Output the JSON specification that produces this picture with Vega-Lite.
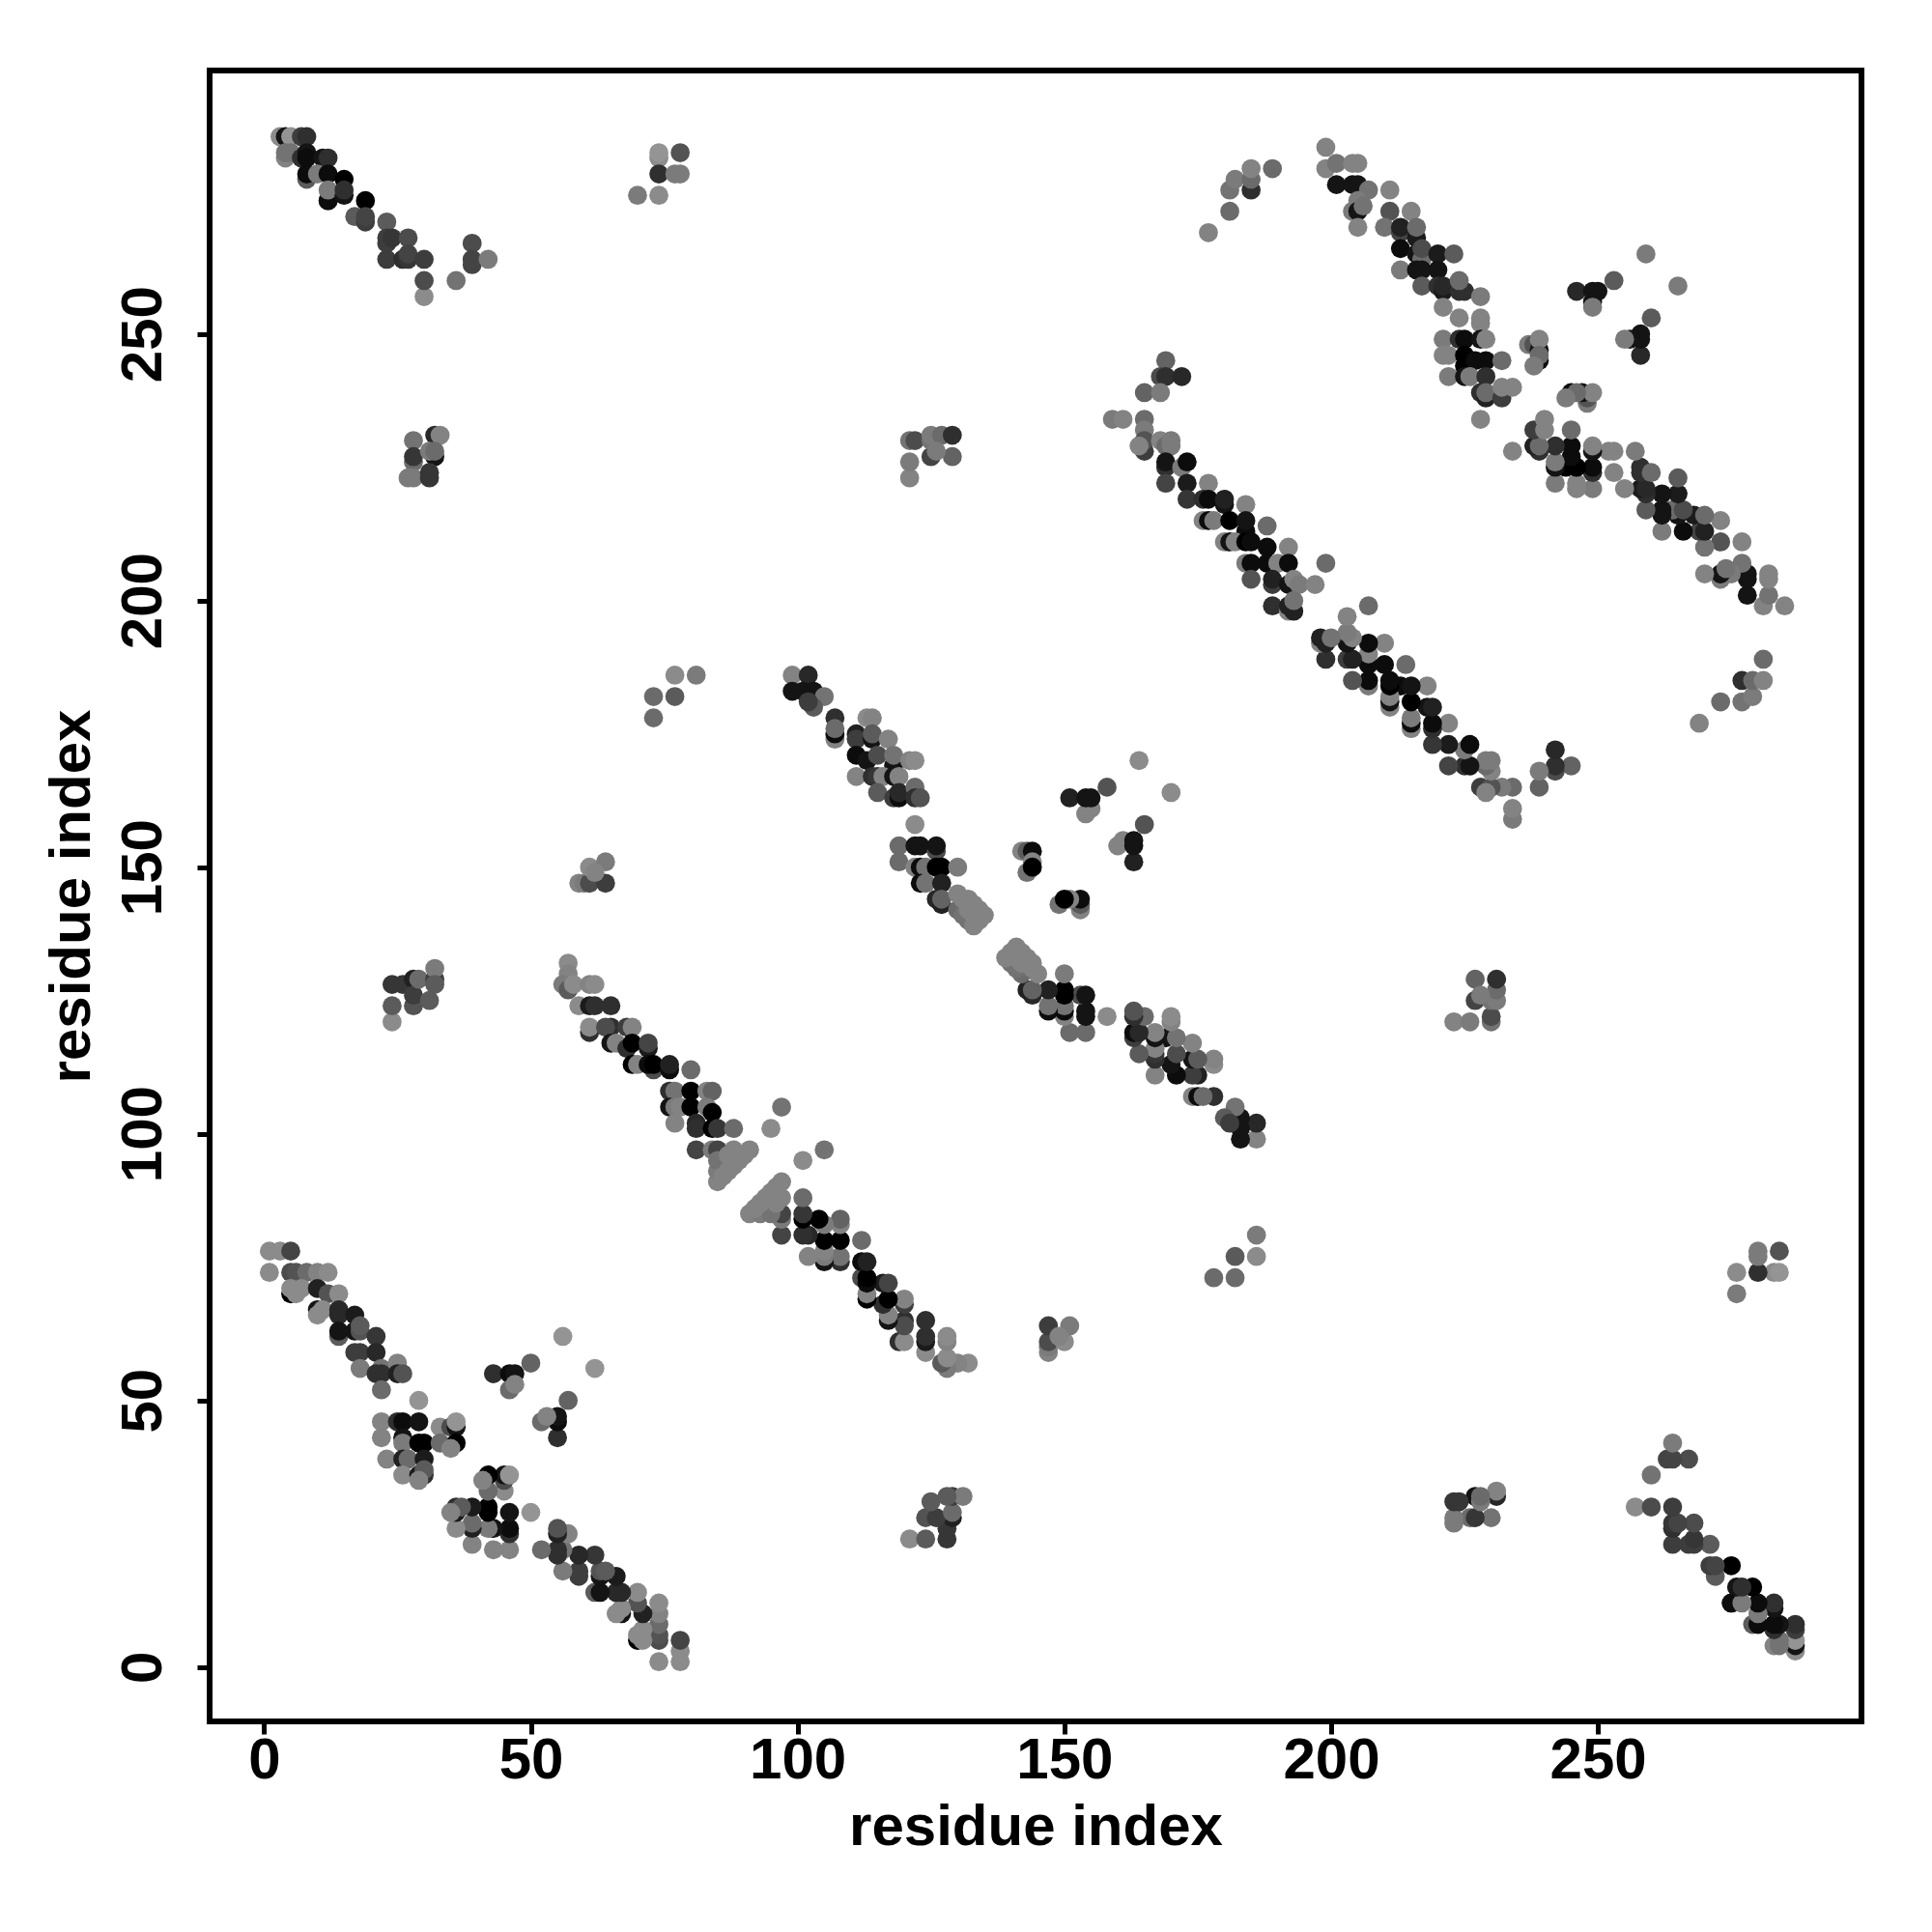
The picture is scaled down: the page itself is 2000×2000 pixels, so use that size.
{"$schema":"https://vega.github.io/schema/vega-lite/v6.json","autosize":"none","width":1710,"height":1709,"padding":{"left":217,"top":73,"right":73,"bottom":218},"background":"white","view":{"stroke":"black","strokeWidth":6},
"data":{"values":[
{"x":1,"y":78,"s":0.9},{"x":3,"y":78,"s":0.9},{"x":5,"y":78,"s":0.45},{"x":1,"y":74,"s":0.9},{"x":5,"y":74,"s":0.5},{"x":6,"y":74,"s":0.55},{"x":8,"y":74,"s":0.7},{"x":10,"y":74,"s":0.85},{"x":12,"y":74,"s":0.9},{"x":5,"y":70,"s":0},{"x":5,"y":71,"s":0.9},{"x":6,"y":70,"s":0.9},{"x":7,"y":71,"s":0.9},{"x":10,"y":71,"s":0.2},{"x":12,"y":70,"s":0.55},{"x":14,"y":70,"s":0.9},{"x":10,"y":67,"s":0.1},{"x":10,"y":66,"s":0.9},{"x":11,"y":67,"s":0.9},{"x":14,"y":67,"s":0.25},{"x":14,"y":66,"s":0.25},{"x":17,"y":66,"s":0.15},{"x":14,"y":62,"s":0.6},{"x":14,"y":63,"s":0.1},{"x":17,"y":63,"s":0.1},{"x":18,"y":63,"s":0.55},{"x":18,"y":64,"s":0.6},{"x":21,"y":62,"s":0.35},{"x":17,"y":59,"s":0.4},{"x":18,"y":59,"s":0.4},{"x":21,"y":59,"s":0.25},{"x":18,"y":56,"s":0.8},{"x":22,"y":56,"s":0.75},{"x":22,"y":55,"s":0.3},{"x":21,"y":55,"s":0.3},{"x":25,"y":57,"s":0.85},{"x":25,"y":55,"s":0.2},{"x":26,"y":55,"s":0.55},{"x":22,"y":52,"s":0.7},{"x":29,"y":50,"s":0.95},{"x":22,"y":46,"s":0.85},{"x":25,"y":46,"s":0.3},{"x":26,"y":46,"s":0.05},{"x":29,"y":46,"s":0.1},{"x":33,"y":45,"s":0.9},{"x":35,"y":45,"s":0.5},{"x":36,"y":45,"s":0.1},{"x":36,"y":46,"s":0.95},{"x":22,"y":43,"s":0.85},{"x":26,"y":43,"s":0.1},{"x":26,"y":42,"s":0.8},{"x":29,"y":42,"s":0},{"x":30,"y":42,"s":0},{"x":33,"y":42,"s":0.7},{"x":36,"y":42,"s":0},{"x":35,"y":41,"s":0.85},{"x":23,"y":39,"s":0.85},{"x":26,"y":39,"s":0.2},{"x":27,"y":39,"s":0.7},{"x":30,"y":39,"s":0.15},{"x":26,"y":36,"s":0.9},{"x":30,"y":36,"s":0.3},{"x":29,"y":36,"s":0.15},{"x":30,"y":37,"s":0.6},{"x":29,"y":35,"s":0.85},{"x":43,"y":55,"s":0.3},{"x":46,"y":55,"s":0.05},{"x":47,"y":55,"s":0.1},{"x":50,"y":57,"s":0.65},{"x":46,"y":52,"s":0.7},{"x":47,"y":53,"s":0.85},{"x":56,"y":62,"s":0.95},
{"x":3,"y":287,"s":0.9},{"x":4,"y":287,"s":0.1},{"x":5,"y":287,"s":0.95},{"x":7,"y":287,"s":0.4},{"x":8,"y":287,"s":0.3},{"x":4,"y":283,"s":0.85},{"x":4,"y":284,"s":0.75},{"x":5,"y":284,"s":0.75},{"x":7,"y":283,"s":0.3},{"x":8,"y":284,"s":0.1},{"x":8,"y":283,"s":0.05},{"x":11,"y":283,"s":0.1},{"x":12,"y":283,"s":0.3},{"x":8,"y":279,"s":0.6},{"x":8,"y":280,"s":0.05},{"x":10,"y":280,"s":0.8},{"x":12,"y":280,"s":0.05},{"x":15,"y":279,"s":0},{"x":12,"y":275,"s":0.7},{"x":12,"y":275,"s":0.05},{"x":12,"y":277,"s":0.8},{"x":15,"y":276,"s":0.1},{"x":15,"y":277,"s":0.3},{"x":19,"y":275,"s":0},{"x":17,"y":272,"s":0.6},{"x":19,"y":271,"s":0.4},{"x":19,"y":272,"s":0.45},{"x":23,"y":271,"s":0.6},{"x":23,"y":267,"s":0.4},{"x":23,"y":268,"s":0.4},{"x":24,"y":268,"s":0.35},{"x":27,"y":268,"s":0.5},{"x":23,"y":264,"s":0.4},{"x":26,"y":264,"s":0.3},{"x":27,"y":264,"s":0.35},{"x":27,"y":265,"s":0.45},{"x":30,"y":264,"s":0.4},{"x":30,"y":257,"s":0.9},{"x":30,"y":260,"s":0.5},{"x":36,"y":260,"s":0.75},{"x":39,"y":267,"s":0.5},{"x":39,"y":263,"s":0.45},{"x":39,"y":264,"s":0.45},{"x":42,"y":264,"s":0.8},{"x":74,"y":283,"s":0.9},{"x":74,"y":284,"s":0.95},{"x":78,"y":284,"s":0.55},{"x":74,"y":280,"s":0.3},{"x":77,"y":280,"s":0.8},{"x":78,"y":280,"s":0.8},{"x":70,"y":276,"s":0.8},{"x":74,"y":276,"s":0.9},{"x":32,"y":231,"s":0.25},{"x":33,"y":231,"s":0.85},{"x":28,"y":230,"s":0.75},{"x":28,"y":226,"s":0.7},{"x":28,"y":227,"s":0.35},{"x":32,"y":227,"s":0.1},{"x":31,"y":228,"s":0.8},{"x":32,"y":228,"s":0.7},{"x":27,"y":223,"s":0.8},{"x":28,"y":223,"s":0.8},{"x":31,"y":223,"s":0.35},{"x":31,"y":224,"s":0.35},
{"x":24,"y":121,"s":0.9},{"x":24,"y":124,"s":0.6},{"x":24,"y":128,"s":0.35},{"x":26,"y":128,"s":0.35},{"x":28,"y":129,"s":0.2},{"x":28,"y":124,"s":0.55},{"x":28,"y":126,"s":0.4},{"x":31,"y":125,"s":0.6},{"x":29,"y":129,"s":0.7},{"x":32,"y":129,"s":0.4},{"x":32,"y":131,"s":0.8},{"x":32,"y":128,"s":0.6},{"x":59,"y":147,"s":0.85},{"x":60,"y":147,"s":0.8},{"x":61,"y":147,"s":0.5},{"x":61,"y":150,"s":0.9},{"x":64,"y":151,"s":0.8},{"x":64,"y":147,"s":0.4},{"x":62,"y":149,"s":0.85},{"x":73,"y":178,"s":0.7},{"x":73,"y":182,"s":0.7},{"x":77,"y":182,"s":0.6},{"x":77,"y":186,"s":0.9},{"x":81,"y":186,"s":0.8},
{"x":57,"y":132,"s":0.9},{"x":57,"y":130,"s":0.85},{"x":56,"y":128,"s":0.8},{"x":57,"y":127,"s":0.6},{"x":58,"y":128,"s":0.9},{"x":61,"y":128,"s":0.85},{"x":62,"y":128,"s":0.9},{"x":59,"y":124,"s":0.9},{"x":61,"y":124,"s":0.15},{"x":62,"y":124,"s":0.3},{"x":65,"y":124,"s":0.3},{"x":61,"y":119,"s":0.3},{"x":61,"y":120,"s":0.9},{"x":65,"y":120,"s":0.3},{"x":64,"y":120,"s":0.5},{"x":68,"y":120,"s":0.4},{"x":69,"y":120,"s":0.85},{"x":65,"y":117,"s":0.1},{"x":66,"y":117,"s":0.85},{"x":68,"y":116,"s":0.3},{"x":69,"y":117,"s":0},{"x":72,"y":116,"s":0.15},{"x":72,"y":117,"s":0.45},{"x":69,"y":113,"s":0},{"x":70,"y":113,"s":0.85},{"x":73,"y":112,"s":0.5},{"x":72,"y":113,"s":0.05},{"x":73,"y":113,"s":0},{"x":76,"y":112,"s":0.05},{"x":76,"y":113,"s":0.2},{"x":80,"y":112,"s":0.7},{"x":76,"y":108,"s":0.3},{"x":77,"y":108,"s":0.75},{"x":80,"y":108,"s":0},{"x":83,"y":108,"s":0.85},{"x":84,"y":108,"s":0.65},{"x":76,"y":105,"s":0.1},{"x":77,"y":105,"s":0.8},{"x":78,"y":105,"s":0.85},{"x":80,"y":105,"s":0},{"x":83,"y":105,"s":0.8},{"x":84,"y":104,"s":0},{"x":77,"y":102,"s":0.85},{"x":81,"y":102,"s":0.25},{"x":81,"y":101,"s":0.3},{"x":84,"y":101,"s":0},{"x":85,"y":101,"s":0.35},{"x":88,"y":101,"s":0.7},{"x":81,"y":97,"s":0.45},{"x":84,"y":97,"s":0.8},{"x":85,"y":97,"s":0.45},{"x":85,"y":91,"s":0.85},{"x":85,"y":93,"s":0.8},{"x":85,"y":95,"s":0.75},{"x":86,"y":92,"s":0.85},{"x":87,"y":93,"s":0.85},{"x":87,"y":96,"s":0.85},{"x":88,"y":94,"s":0.85},{"x":88,"y":97,"s":0.85},{"x":89,"y":95,"s":0.85},{"x":90,"y":96,"s":0.85},{"x":91,"y":97,"s":0.85},{"x":95,"y":101,"s":0.9},{"x":97,"y":105,"s":0.75},
{"x":99,"y":186,"s":0.85},{"x":102,"y":186,"s":0.25},{"x":99,"y":183,"s":0.1},{"x":101,"y":183,"s":0.1},{"x":103,"y":183,"s":0.1},{"x":105,"y":182,"s":0.75},{"x":103,"y":180,"s":0.6},{"x":102,"y":181,"s":0.4},{"x":107,"y":178,"s":0.3},{"x":107,"y":174,"s":0.85},{"x":107,"y":175,"s":0.05},{"x":107,"y":176,"s":0.7},{"x":111,"y":175,"s":0.2},{"x":111,"y":174,"s":0.4},{"x":113,"y":178,"s":0.9},{"x":114,"y":178,"s":0.85},{"x":114,"y":174,"s":0.1},{"x":114,"y":175,"s":0.6},{"x":117,"y":174,"s":0.85},{"x":111,"y":171,"s":0.05},{"x":113,"y":170,"s":0.1},{"x":115,"y":171,"s":0.5},{"x":118,"y":169,"s":0.1},{"x":118,"y":171,"s":0.75},{"x":121,"y":170,"s":0.85},{"x":122,"y":170,"s":0.9},{"x":111,"y":167,"s":0.85},{"x":114,"y":167,"s":0.3},{"x":115,"y":167,"s":0.35},{"x":116,"y":167,"s":0.85},{"x":118,"y":167,"s":0.1},{"x":119,"y":167,"s":0.85},{"x":115,"y":164,"s":0.6},{"x":118,"y":163,"s":0.4},{"x":119,"y":163,"s":0.05},{"x":119,"y":164,"s":0.25},{"x":122,"y":165,"s":0.7},{"x":122,"y":163,"s":0.3},{"x":123,"y":163,"s":0.55},{"x":122,"y":158,"s":0.9},{"x":119,"y":154,"s":0.7},{"x":119,"y":151,"s":0.7},{"x":122,"y":154,"s":0.1},{"x":123,"y":154,"s":0.1},{"x":126,"y":153,"s":0.5},{"x":126,"y":154,"s":0.1},{"x":122,"y":150,"s":0.85},{"x":123,"y":150,"s":0.05},{"x":124,"y":150,"s":0.75},{"x":126,"y":150,"s":0},{"x":127,"y":150,"s":0},{"x":130,"y":150,"s":0.8},{"x":123,"y":147,"s":0.05},{"x":124,"y":147,"s":0.75},{"x":127,"y":147,"s":0.2},{"x":126,"y":144,"s":0.25},{"x":127,"y":143,"s":0.2},{"x":127,"y":144,"s":0.65},{"x":130,"y":142,"s":0.7},{"x":131,"y":141,"s":0.75},{"x":132,"y":140,"s":0.75},{"x":133,"y":139,"s":0.85},{"x":130,"y":145,"s":0.85},{"x":131,"y":144,"s":0.85},{"x":132,"y":144,"s":0.85},{"x":132,"y":142,"s":0.85},{"x":133,"y":143,"s":0.85},{"x":133,"y":141,"s":0.85},{"x":134,"y":142,"s":0.85},{"x":134,"y":140,"s":0.85},{"x":135,"y":141,"s":0.85},
{"x":142,"y":153,"s":0.85},{"x":143,"y":153,"s":0.6},{"x":144,"y":153,"s":0.05},{"x":144,"y":151,"s":0.85},{"x":143,"y":149,"s":0.75},{"x":144,"y":150,"s":0},{"x":154,"y":160,"s":0.85},{"x":155,"y":161,"s":0.85},{"x":151,"y":163,"s":0.2},{"x":154,"y":163,"s":0.1},{"x":155,"y":163,"s":0.1},{"x":158,"y":165,"s":0.55},{"x":164,"y":170,"s":0.9},
{"x":121,"y":223,"s":0.85},{"x":121,"y":226,"s":0.8},{"x":121,"y":230,"s":0.75},{"x":122,"y":230,"s":0.5},{"x":125,"y":227,"s":0.45},{"x":125,"y":230,"s":0.75},{"x":125,"y":231,"s":0.8},{"x":127,"y":231,"s":0.7},{"x":129,"y":231,"s":0.3},{"x":129,"y":227,"s":0.65},{"x":126,"y":228,"s":0.8},
{"x":169,"y":245,"s":0.65},{"x":168,"y":242,"s":0.5},{"x":169,"y":242,"s":0.3},{"x":172,"y":242,"s":0.25},{"x":165,"y":239,"s":0.65},{"x":168,"y":239,"s":0.8},{"x":159,"y":234,"s":0.8},{"x":161,"y":234,"s":0.85},{"x":165,"y":234,"s":0.7},{"x":165,"y":232,"s":0.8},{"x":165,"y":228,"s":0.4},{"x":165,"y":230,"s":0.55},{"x":164,"y":229,"s":0.85},{"x":168,"y":230,"s":0.85},{"x":169,"y":229,"s":0.7},{"x":170,"y":230,"s":0.8},{"x":170,"y":229,"s":0.8},{"x":169,"y":225,"s":0.3},{"x":169,"y":226,"s":0.1},{"x":172,"y":225,"s":0.8},{"x":173,"y":226,"s":0.05},{"x":169,"y":222,"s":0.45},{"x":173,"y":222,"s":0.15},{"x":177,"y":222,"s":0.85},{"x":173,"y":219,"s":0.35},{"x":176,"y":219,"s":0.3},{"x":177,"y":219,"s":0.05},{"x":180,"y":218,"s":0.1},{"x":180,"y":219,"s":0.2},{"x":184,"y":218,"s":0.85},{"x":176,"y":215,"s":0.85},{"x":177,"y":215,"s":0.05},{"x":178,"y":215,"s":0.8},{"x":181,"y":215,"s":0},{"x":184,"y":213,"s":0.05},{"x":184,"y":215,"s":0.1},{"x":188,"y":214,"s":0.7},{"x":180,"y":211,"s":0.85},{"x":181,"y":211,"s":0.1},{"x":182,"y":211,"s":0.85},{"x":184,"y":211,"s":0},{"x":185,"y":211,"s":0.05},{"x":188,"y":210,"s":0.05},{"x":192,"y":210,"s":0.85},{"x":184,"y":207,"s":0.8},{"x":185,"y":207,"s":0.05},{"x":188,"y":207,"s":0.05},{"x":190,"y":207,"s":0.85},{"x":192,"y":207,"s":0.05},{"x":185,"y":204,"s":0.55},{"x":189,"y":203,"s":0.4},{"x":189,"y":204,"s":0.2},{"x":192,"y":203,"s":0.1},{"x":193,"y":204,"s":0.85},{"x":194,"y":203,"s":0.8},{"x":197,"y":203,"s":0.85},{"x":199,"y":207,"s":0.7},{"x":189,"y":199,"s":0.3},{"x":192,"y":198,"s":0.85},{"x":192,"y":199,"s":0.2},{"x":193,"y":198,"s":0.2},{"x":193,"y":200,"s":0.75},
{"x":199,"y":285,"s":0.85},{"x":199,"y":281,"s":0.85},{"x":201,"y":282,"s":0.75},{"x":204,"y":282,"s":0.85},{"x":201,"y":278,"s":0.1},{"x":204,"y":278,"s":0.1},{"x":205,"y":282,"s":0.85},{"x":205,"y":278,"s":0.1},{"x":207,"y":277,"s":0.75},{"x":204,"y":273,"s":0.8},{"x":205,"y":275,"s":0.8},{"x":205,"y":273,"s":0.1},{"x":206,"y":274,"s":0.75},{"x":205,"y":270,"s":0.85},{"x":211,"y":277,"s":0.85},{"x":211,"y":273,"s":0.55},{"x":215,"y":273,"s":0.85},{"x":210,"y":270,"s":0.75},{"x":213,"y":269,"s":0.45},{"x":213,"y":270,"s":0.2},{"x":216,"y":268,"s":0.15},{"x":216,"y":270,"s":0.7},{"x":213,"y":266,"s":0.05},{"x":216,"y":265,"s":0.1},{"x":217,"y":264,"s":0.7},{"x":217,"y":266,"s":0.5},{"x":220,"y":265,"s":0.15},{"x":223,"y":265,"s":0.6},{"x":213,"y":262,"s":0.8},{"x":216,"y":262,"s":0.1},{"x":217,"y":262,"s":0.1},{"x":220,"y":262,"s":0.1},{"x":217,"y":259,"s":0.6},{"x":220,"y":259,"s":0.3},{"x":221,"y":258,"s":0.15},{"x":221,"y":259,"s":0.25},{"x":224,"y":258,"s":0.3},{"x":225,"y":258,"s":0.3},{"x":224,"y":260,"s":0.7},{"x":228,"y":257,"s":0.8},{"x":221,"y":255,"s":0.85},{"x":224,"y":253,"s":0.85},{"x":228,"y":252,"s":0.85},{"x":228,"y":253,"s":0.85},{"x":221,"y":249,"s":0.8},{"x":224,"y":249,"s":0.3},{"x":225,"y":249,"s":0.05},{"x":228,"y":249,"s":0.1},{"x":229,"y":249,"s":0.85},{"x":221,"y":246,"s":0.85},{"x":222,"y":246,"s":0.85},{"x":225,"y":246,"s":0},{"x":225,"y":244,"s":0},{"x":227,"y":245,"s":0.05},{"x":229,"y":245,"s":0.05},{"x":232,"y":245,"s":0.7},{"x":222,"y":242,"s":0.8},{"x":225,"y":242,"s":0.1},{"x":226,"y":242,"s":0.8},{"x":229,"y":242,"s":0.3},{"x":228,"y":239,"s":0.3},{"x":229,"y":238,"s":0.2},{"x":229,"y":239,"s":0.7},{"x":232,"y":238,"s":0.4},{"x":232,"y":240,"s":0.85},{"x":234,"y":240,"s":0.85},{"x":228,"y":234,"s":0.85},{"x":237,"y":248,"s":0.8},{"x":238,"y":248,"s":0.55},{"x":239,"y":247,"s":0.1},{"x":239,"y":249,"s":0.85},{"x":239,"y":245,"s":0.05},{"x":239,"y":246,"s":0.7},{"x":238,"y":244,"s":0.8},{"x":246,"y":258,"s":0.25},{"x":249,"y":258,"s":0.1},{"x":250,"y":258,"s":0.1},{"x":249,"y":256,"s":0.1},{"x":249,"y":255,"s":0.8},{"x":253,"y":260,"s":0.6},{"x":259,"y":265,"s":0.8},{"x":177,"y":269,"s":0.85},{"x":181,"y":273,"s":0.7},{"x":181,"y":277,"s":0.75},{"x":182,"y":279,"s":0.8},{"x":185,"y":277,"s":0.3},{"x":185,"y":279,"s":0.7},{"x":185,"y":281,"s":0.85},{"x":189,"y":281,"s":0.7},

{"y":1,"x":78,"s":0.9},{"y":3,"x":78,"s":0.9},{"y":5,"x":78,"s":0.45},{"y":1,"x":74,"s":0.9},{"y":5,"x":74,"s":0.5},{"y":6,"x":74,"s":0.55},{"y":8,"x":74,"s":0.7},{"y":10,"x":74,"s":0.85},{"y":12,"x":74,"s":0.9},{"y":5,"x":70,"s":0},{"y":5,"x":71,"s":0.9},{"y":6,"x":70,"s":0.9},{"y":7,"x":71,"s":0.9},{"y":10,"x":71,"s":0.2},{"y":12,"x":70,"s":0.55},{"y":14,"x":70,"s":0.9},{"y":10,"x":67,"s":0.1},{"y":10,"x":66,"s":0.9},{"y":11,"x":67,"s":0.9},{"y":14,"x":67,"s":0.25},{"y":14,"x":66,"s":0.25},{"y":17,"x":66,"s":0.15},{"y":14,"x":62,"s":0.6},{"y":14,"x":63,"s":0.1},{"y":17,"x":63,"s":0.1},{"y":18,"x":63,"s":0.55},{"y":18,"x":64,"s":0.6},{"y":21,"x":62,"s":0.35},{"y":17,"x":59,"s":0.4},{"y":18,"x":59,"s":0.4},{"y":21,"x":59,"s":0.25},{"y":18,"x":56,"s":0.8},{"y":22,"x":56,"s":0.75},{"y":22,"x":55,"s":0.3},{"y":21,"x":55,"s":0.3},{"y":25,"x":57,"s":0.85},{"y":25,"x":55,"s":0.2},{"y":26,"x":55,"s":0.55},{"y":22,"x":52,"s":0.7},{"y":29,"x":50,"s":0.95},{"y":22,"x":46,"s":0.85},{"y":25,"x":46,"s":0.3},{"y":26,"x":46,"s":0.05},{"y":29,"x":46,"s":0.1},{"y":33,"x":45,"s":0.9},{"y":35,"x":45,"s":0.5},{"y":36,"x":45,"s":0.1},{"y":36,"x":46,"s":0.95},{"y":22,"x":43,"s":0.85},{"y":26,"x":43,"s":0.1},{"y":26,"x":42,"s":0.8},{"y":29,"x":42,"s":0},{"y":30,"x":42,"s":0},{"y":33,"x":42,"s":0.7},{"y":36,"x":42,"s":0},{"y":35,"x":41,"s":0.85},{"y":23,"x":39,"s":0.85},{"y":26,"x":39,"s":0.2},{"y":27,"x":39,"s":0.7},{"y":30,"x":39,"s":0.15},{"y":26,"x":36,"s":0.9},{"y":30,"x":36,"s":0.3},{"y":29,"x":36,"s":0.15},{"y":30,"x":37,"s":0.6},{"y":29,"x":35,"s":0.85},{"y":43,"x":55,"s":0.3},{"y":46,"x":55,"s":0.05},{"y":47,"x":55,"s":0.1},{"y":50,"x":57,"s":0.65},{"y":46,"x":52,"s":0.7},{"y":47,"x":53,"s":0.85},{"y":56,"x":62,"s":0.95},
{"y":3,"x":287,"s":0.9},{"y":4,"x":287,"s":0.1},{"y":5,"x":287,"s":0.95},{"y":7,"x":287,"s":0.4},{"y":8,"x":287,"s":0.3},{"y":4,"x":283,"s":0.85},{"y":4,"x":284,"s":0.75},{"y":5,"x":284,"s":0.75},{"y":7,"x":283,"s":0.3},{"y":8,"x":284,"s":0.1},{"y":8,"x":283,"s":0.05},{"y":11,"x":283,"s":0.1},{"y":12,"x":283,"s":0.3},{"y":8,"x":279,"s":0.6},{"y":8,"x":280,"s":0.05},{"y":10,"x":280,"s":0.8},{"y":12,"x":280,"s":0.05},{"y":15,"x":279,"s":0},{"y":12,"x":275,"s":0.7},{"y":12,"x":275,"s":0.05},{"y":12,"x":277,"s":0.8},{"y":15,"x":276,"s":0.1},{"y":15,"x":277,"s":0.3},{"y":19,"x":275,"s":0},{"y":17,"x":272,"s":0.6},{"y":19,"x":271,"s":0.4},{"y":19,"x":272,"s":0.45},{"y":23,"x":271,"s":0.6},{"y":23,"x":267,"s":0.4},{"y":23,"x":268,"s":0.4},{"y":24,"x":268,"s":0.35},{"y":27,"x":268,"s":0.5},{"y":23,"x":264,"s":0.4},{"y":26,"x":264,"s":0.3},{"y":27,"x":264,"s":0.35},{"y":27,"x":265,"s":0.45},{"y":30,"x":264,"s":0.4},{"y":30,"x":257,"s":0.9},{"y":30,"x":260,"s":0.5},{"y":36,"x":260,"s":0.75},{"y":39,"x":267,"s":0.5},{"y":39,"x":263,"s":0.45},{"y":39,"x":264,"s":0.45},{"y":42,"x":264,"s":0.8},{"y":74,"x":283,"s":0.9},{"y":74,"x":284,"s":0.95},{"y":78,"x":284,"s":0.55},{"y":74,"x":280,"s":0.3},{"y":77,"x":280,"s":0.8},{"y":78,"x":280,"s":0.8},{"y":70,"x":276,"s":0.8},{"y":74,"x":276,"s":0.9},{"y":32,"x":231,"s":0.25},{"y":33,"x":231,"s":0.85},{"y":28,"x":230,"s":0.75},{"y":28,"x":226,"s":0.7},{"y":28,"x":227,"s":0.35},{"y":32,"x":227,"s":0.1},{"y":31,"x":228,"s":0.8},{"y":32,"x":228,"s":0.7},{"y":27,"x":223,"s":0.8},{"y":28,"x":223,"s":0.8},{"y":31,"x":223,"s":0.35},{"y":31,"x":224,"s":0.35},
{"y":24,"x":121,"s":0.9},{"y":24,"x":124,"s":0.6},{"y":24,"x":128,"s":0.35},{"y":26,"x":128,"s":0.35},{"y":28,"x":129,"s":0.2},{"y":28,"x":124,"s":0.55},{"y":28,"x":126,"s":0.4},{"y":31,"x":125,"s":0.6},{"y":29,"x":129,"s":0.7},{"y":32,"x":129,"s":0.4},{"y":32,"x":131,"s":0.8},{"y":32,"x":128,"s":0.6},{"y":59,"x":147,"s":0.85},{"y":60,"x":147,"s":0.8},{"y":61,"x":147,"s":0.5},{"y":61,"x":150,"s":0.9},{"y":64,"x":151,"s":0.8},{"y":64,"x":147,"s":0.4},{"y":62,"x":149,"s":0.85},{"y":73,"x":178,"s":0.7},{"y":73,"x":182,"s":0.7},{"y":77,"x":182,"s":0.6},{"y":77,"x":186,"s":0.9},{"y":81,"x":186,"s":0.8},
{"y":57,"x":132,"s":0.9},{"y":57,"x":130,"s":0.85},{"y":56,"x":128,"s":0.8},{"y":57,"x":127,"s":0.6},{"y":58,"x":128,"s":0.9},{"y":61,"x":128,"s":0.85},{"y":62,"x":128,"s":0.9},{"y":59,"x":124,"s":0.9},{"y":61,"x":124,"s":0.15},{"y":62,"x":124,"s":0.3},{"y":65,"x":124,"s":0.3},{"y":61,"x":119,"s":0.3},{"y":61,"x":120,"s":0.9},{"y":65,"x":120,"s":0.3},{"y":64,"x":120,"s":0.5},{"y":68,"x":120,"s":0.4},{"y":69,"x":120,"s":0.85},{"y":65,"x":117,"s":0.1},{"y":66,"x":117,"s":0.85},{"y":68,"x":116,"s":0.3},{"y":69,"x":117,"s":0},{"y":72,"x":116,"s":0.15},{"y":72,"x":117,"s":0.45},{"y":69,"x":113,"s":0},{"y":70,"x":113,"s":0.85},{"y":73,"x":112,"s":0.5},{"y":72,"x":113,"s":0.05},{"y":73,"x":113,"s":0},{"y":76,"x":112,"s":0.05},{"y":76,"x":113,"s":0.2},{"y":80,"x":112,"s":0.7},{"y":76,"x":108,"s":0.3},{"y":77,"x":108,"s":0.75},{"y":80,"x":108,"s":0},{"y":83,"x":108,"s":0.85},{"y":84,"x":108,"s":0.65},{"y":76,"x":105,"s":0.1},{"y":77,"x":105,"s":0.8},{"y":78,"x":105,"s":0.85},{"y":80,"x":105,"s":0},{"y":83,"x":105,"s":0.8},{"y":84,"x":104,"s":0},{"y":77,"x":102,"s":0.85},{"y":81,"x":102,"s":0.25},{"y":81,"x":101,"s":0.3},{"y":84,"x":101,"s":0},{"y":85,"x":101,"s":0.35},{"y":88,"x":101,"s":0.7},{"y":81,"x":97,"s":0.45},{"y":84,"x":97,"s":0.8},{"y":85,"x":97,"s":0.45},{"y":85,"x":91,"s":0.85},{"y":85,"x":93,"s":0.8},{"y":85,"x":95,"s":0.75},{"y":86,"x":92,"s":0.85},{"y":87,"x":93,"s":0.85},{"y":87,"x":96,"s":0.85},{"y":88,"x":94,"s":0.85},{"y":88,"x":97,"s":0.85},{"y":89,"x":95,"s":0.85},{"y":90,"x":96,"s":0.85},{"y":91,"x":97,"s":0.85},{"y":95,"x":101,"s":0.9},{"y":97,"x":105,"s":0.75},
{"y":99,"x":186,"s":0.85},{"y":102,"x":186,"s":0.25},{"y":99,"x":183,"s":0.1},{"y":101,"x":183,"s":0.1},{"y":103,"x":183,"s":0.1},{"y":105,"x":182,"s":0.75},{"y":103,"x":180,"s":0.6},{"y":102,"x":181,"s":0.4},{"y":107,"x":178,"s":0.3},{"y":107,"x":174,"s":0.85},{"y":107,"x":175,"s":0.05},{"y":107,"x":176,"s":0.7},{"y":111,"x":175,"s":0.2},{"y":111,"x":174,"s":0.4},{"y":113,"x":178,"s":0.9},{"y":114,"x":178,"s":0.85},{"y":114,"x":174,"s":0.1},{"y":114,"x":175,"s":0.6},{"y":117,"x":174,"s":0.85},{"y":111,"x":171,"s":0.05},{"y":113,"x":170,"s":0.1},{"y":115,"x":171,"s":0.5},{"y":118,"x":169,"s":0.1},{"y":118,"x":171,"s":0.75},{"y":121,"x":170,"s":0.85},{"y":122,"x":170,"s":0.9},{"y":111,"x":167,"s":0.85},{"y":114,"x":167,"s":0.3},{"y":115,"x":167,"s":0.35},{"y":116,"x":167,"s":0.85},{"y":118,"x":167,"s":0.1},{"y":119,"x":167,"s":0.85},{"y":115,"x":164,"s":0.6},{"y":118,"x":163,"s":0.4},{"y":119,"x":163,"s":0.05},{"y":119,"x":164,"s":0.25},{"y":122,"x":165,"s":0.7},{"y":122,"x":163,"s":0.3},{"y":123,"x":163,"s":0.55},{"y":122,"x":158,"s":0.9},{"y":119,"x":154,"s":0.7},{"y":119,"x":151,"s":0.7},{"y":122,"x":154,"s":0.1},{"y":123,"x":154,"s":0.1},{"y":126,"x":153,"s":0.5},{"y":126,"x":154,"s":0.1},{"y":122,"x":150,"s":0.85},{"y":123,"x":150,"s":0.05},{"y":124,"x":150,"s":0.75},{"y":126,"x":150,"s":0},{"y":127,"x":150,"s":0},{"y":130,"x":150,"s":0.8},{"y":123,"x":147,"s":0.05},{"y":124,"x":147,"s":0.75},{"y":127,"x":147,"s":0.2},{"y":126,"x":144,"s":0.25},{"y":127,"x":143,"s":0.2},{"y":127,"x":144,"s":0.65},{"y":130,"x":142,"s":0.7},{"y":131,"x":141,"s":0.75},{"y":132,"x":140,"s":0.75},{"y":133,"x":139,"s":0.85},{"y":130,"x":145,"s":0.85},{"y":131,"x":144,"s":0.85},{"y":132,"x":144,"s":0.85},{"y":132,"x":142,"s":0.85},{"y":133,"x":143,"s":0.85},{"y":133,"x":141,"s":0.85},{"y":134,"x":142,"s":0.85},{"y":134,"x":140,"s":0.85},{"y":135,"x":141,"s":0.85},
{"y":142,"x":153,"s":0.85},{"y":143,"x":153,"s":0.6},{"y":144,"x":153,"s":0.05},{"y":144,"x":151,"s":0.85},{"y":143,"x":149,"s":0.75},{"y":144,"x":150,"s":0},{"y":154,"x":160,"s":0.85},{"y":155,"x":161,"s":0.85},{"y":151,"x":163,"s":0.2},{"y":154,"x":163,"s":0.1},{"y":155,"x":163,"s":0.1},{"y":158,"x":165,"s":0.55},{"y":164,"x":170,"s":0.9},
{"y":121,"x":223,"s":0.85},{"y":121,"x":226,"s":0.8},{"y":121,"x":230,"s":0.75},{"y":122,"x":230,"s":0.5},{"y":125,"x":227,"s":0.45},{"y":125,"x":230,"s":0.75},{"y":125,"x":231,"s":0.8},{"y":127,"x":231,"s":0.7},{"y":129,"x":231,"s":0.3},{"y":129,"x":227,"s":0.65},{"y":126,"x":228,"s":0.8},
{"y":169,"x":245,"s":0.65},{"y":168,"x":242,"s":0.5},{"y":169,"x":242,"s":0.3},{"y":172,"x":242,"s":0.25},{"y":165,"x":239,"s":0.65},{"y":168,"x":239,"s":0.8},{"y":159,"x":234,"s":0.8},{"y":161,"x":234,"s":0.85},{"y":165,"x":234,"s":0.7},{"y":165,"x":232,"s":0.8},{"y":165,"x":228,"s":0.4},{"y":165,"x":230,"s":0.55},{"y":164,"x":229,"s":0.85},{"y":168,"x":230,"s":0.85},{"y":169,"x":229,"s":0.7},{"y":170,"x":230,"s":0.8},{"y":170,"x":229,"s":0.8},{"y":169,"x":225,"s":0.3},{"y":169,"x":226,"s":0.1},{"y":172,"x":225,"s":0.8},{"y":173,"x":226,"s":0.05},{"y":169,"x":222,"s":0.45},{"y":173,"x":222,"s":0.15},{"y":177,"x":222,"s":0.85},{"y":173,"x":219,"s":0.35},{"y":176,"x":219,"s":0.3},{"y":177,"x":219,"s":0.05},{"y":180,"x":218,"s":0.1},{"y":180,"x":219,"s":0.2},{"y":184,"x":218,"s":0.85},{"y":176,"x":215,"s":0.85},{"y":177,"x":215,"s":0.05},{"y":178,"x":215,"s":0.8},{"y":181,"x":215,"s":0},{"y":184,"x":213,"s":0.05},{"y":184,"x":215,"s":0.1},{"y":188,"x":214,"s":0.7},{"y":180,"x":211,"s":0.85},{"y":181,"x":211,"s":0.1},{"y":182,"x":211,"s":0.85},{"y":184,"x":211,"s":0},{"y":185,"x":211,"s":0.05},{"y":188,"x":210,"s":0.05},{"y":192,"x":210,"s":0.85},{"y":184,"x":207,"s":0.8},{"y":185,"x":207,"s":0.05},{"y":188,"x":207,"s":0.05},{"y":190,"x":207,"s":0.85},{"y":192,"x":207,"s":0.05},{"y":185,"x":204,"s":0.55},{"y":189,"x":203,"s":0.4},{"y":189,"x":204,"s":0.2},{"y":192,"x":203,"s":0.1},{"y":193,"x":204,"s":0.85},{"y":194,"x":203,"s":0.8},{"y":197,"x":203,"s":0.85},{"y":199,"x":207,"s":0.7},{"y":189,"x":199,"s":0.3},{"y":192,"x":198,"s":0.85},{"y":192,"x":199,"s":0.2},{"y":193,"x":198,"s":0.2},{"y":193,"x":200,"s":0.75},
{"y":199,"x":285,"s":0.85},{"y":199,"x":281,"s":0.85},{"y":201,"x":282,"s":0.75},{"y":204,"x":282,"s":0.85},{"y":201,"x":278,"s":0.1},{"y":204,"x":278,"s":0.1},{"y":205,"x":282,"s":0.85},{"y":205,"x":278,"s":0.1},{"y":207,"x":277,"s":0.75},{"y":204,"x":273,"s":0.8},{"y":205,"x":275,"s":0.8},{"y":205,"x":273,"s":0.1},{"y":206,"x":274,"s":0.75},{"y":205,"x":270,"s":0.85},{"y":211,"x":277,"s":0.85},{"y":211,"x":273,"s":0.55},{"y":215,"x":273,"s":0.85},{"y":210,"x":270,"s":0.75},{"y":213,"x":269,"s":0.45},{"y":213,"x":270,"s":0.2},{"y":216,"x":268,"s":0.15},{"y":216,"x":270,"s":0.7},{"y":213,"x":266,"s":0.05},{"y":216,"x":265,"s":0.1},{"y":217,"x":264,"s":0.7},{"y":217,"x":266,"s":0.5},{"y":220,"x":265,"s":0.15},{"y":223,"x":265,"s":0.6},{"y":213,"x":262,"s":0.8},{"y":216,"x":262,"s":0.1},{"y":217,"x":262,"s":0.1},{"y":220,"x":262,"s":0.1},{"y":217,"x":259,"s":0.6},{"y":220,"x":259,"s":0.3},{"y":221,"x":258,"s":0.15},{"y":221,"x":259,"s":0.25},{"y":224,"x":258,"s":0.3},{"y":225,"x":258,"s":0.3},{"y":224,"x":260,"s":0.7},{"y":228,"x":257,"s":0.8},{"y":221,"x":255,"s":0.85},{"y":224,"x":253,"s":0.85},{"y":228,"x":252,"s":0.85},{"y":228,"x":253,"s":0.85},{"y":221,"x":249,"s":0.8},{"y":224,"x":249,"s":0.3},{"y":225,"x":249,"s":0.05},{"y":228,"x":249,"s":0.1},{"y":229,"x":249,"s":0.85},{"y":221,"x":246,"s":0.85},{"y":222,"x":246,"s":0.85},{"y":225,"x":246,"s":0},{"y":225,"x":244,"s":0},{"y":227,"x":245,"s":0.05},{"y":229,"x":245,"s":0.05},{"y":232,"x":245,"s":0.7},{"y":222,"x":242,"s":0.8},{"y":225,"x":242,"s":0.1},{"y":226,"x":242,"s":0.8},{"y":229,"x":242,"s":0.3},{"y":228,"x":239,"s":0.3},{"y":229,"x":238,"s":0.2},{"y":229,"x":239,"s":0.7},{"y":232,"x":238,"s":0.4},{"y":232,"x":240,"s":0.85},{"y":234,"x":240,"s":0.85},{"y":228,"x":234,"s":0.85},{"y":237,"x":248,"s":0.8},{"y":238,"x":248,"s":0.55},{"y":239,"x":247,"s":0.1},{"y":239,"x":249,"s":0.85},{"y":239,"x":245,"s":0.05},{"y":239,"x":246,"s":0.7},{"y":238,"x":244,"s":0.8},{"y":246,"x":258,"s":0.25},{"y":249,"x":258,"s":0.1},{"y":250,"x":258,"s":0.1},{"y":249,"x":256,"s":0.1},{"y":249,"x":255,"s":0.8},{"y":253,"x":260,"s":0.6},{"y":259,"x":265,"s":0.8},{"y":177,"x":269,"s":0.85},{"y":181,"x":273,"s":0.7},{"y":181,"x":277,"s":0.75},{"y":182,"x":279,"s":0.8},{"y":185,"x":277,"s":0.3},{"y":185,"x":279,"s":0.7},{"y":185,"x":281,"s":0.85},{"y":189,"x":281,"s":0.7}
]},
"mark":{"type":"circle","size":390,"opacity":1},
"encoding":{
"x":{"field":"x","type":"quantitative","scale":{"domain":[-10.2,299.4],"nice":false,"zero":false},"axis":{"title":"residue index","values":[0,50,100,150,200,250],"grid":false,"domain":false,"tickSize":13,"tickWidth":5,"tickColor":"black","labelFont":"Liberation Sans","labelFontWeight":"bold","labelFontSize":60,"labelColor":"black","labelPadding":-2,"titleFont":"Liberation Sans","titleFontWeight":"bold","titleFontSize":60,"titleColor":"black","titlePadding":10}},
"y":{"field":"y","type":"quantitative","scale":{"domain":[-10.2,299.4],"nice":false,"zero":false},"axis":{"title":"residue index","values":[0,50,100,150,200,250],"grid":false,"domain":false,"tickSize":13,"tickWidth":5,"tickColor":"black","labelFont":"Liberation Sans","labelFontWeight":"bold","labelFontSize":60,"labelColor":"black","labelAngle":-90,"labelAlign":"center","labelBaseline":"bottom","labelPadding":25,"titleFont":"Liberation Sans","titleFontWeight":"bold","titleFontSize":60,"titleColor":"black","titlePadding":13}},
"color":{"field":"s","type":"quantitative","scale":{"domain":[0,1],"range":["#000000","#9c9c9c"]},"legend":null}
}}
